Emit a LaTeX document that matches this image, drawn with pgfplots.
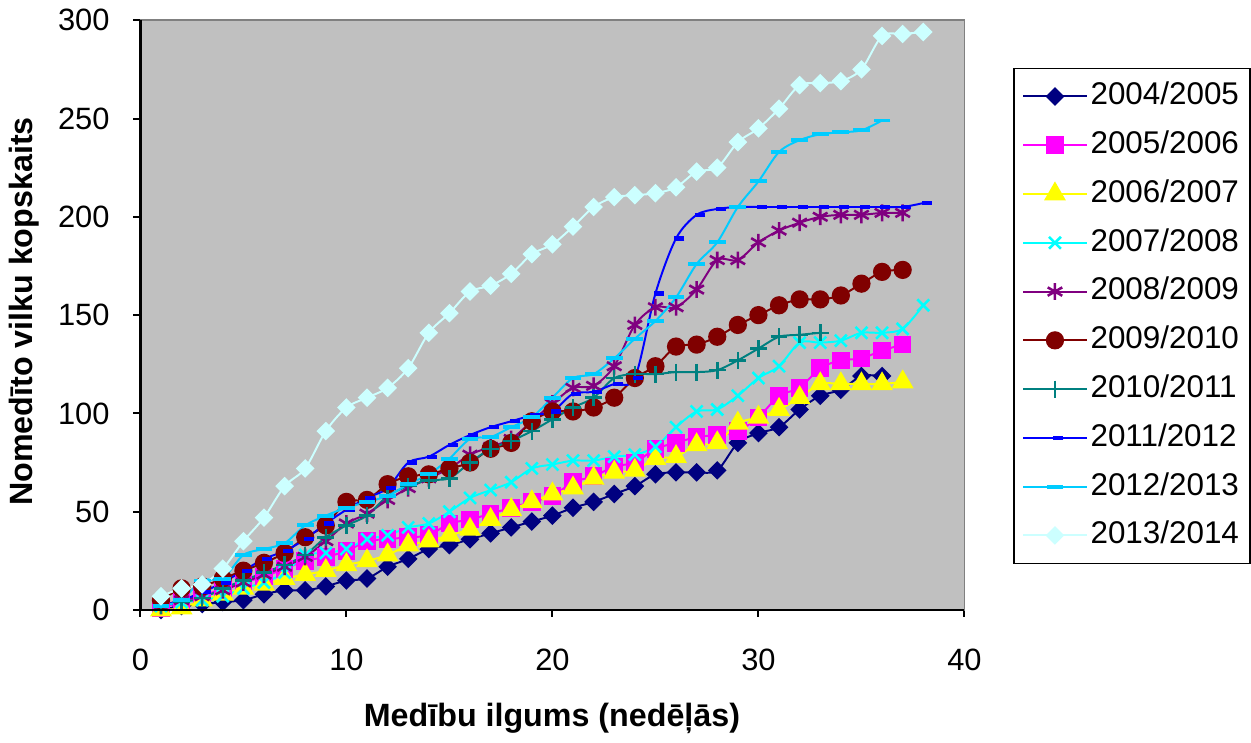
\documentclass[border=0pt]{standalone}
\usepackage{fontspec}
\setmainfont{Liberation Sans}
\usepackage{pgfplots}
\pgfplotsset{compat=1.18}

\definecolor{bg}{HTML}{C0C0C0}
\definecolor{cA}{HTML}{000080}
\definecolor{cB}{HTML}{FF00FF}
\definecolor{cC}{HTML}{FFFF00}
\definecolor{cD}{HTML}{00FFFF}
\definecolor{cE}{HTML}{800080}
\definecolor{cF}{HTML}{800000}
\definecolor{cG}{HTML}{008080}
\definecolor{cH}{HTML}{0000FF}
\definecolor{cI}{HTML}{00CCFF}
\definecolor{cJ}{HTML}{CCFFFF}

\begin{document}
\begin{tikzpicture}
\begin{axis}[
  scale only axis,
  width=294pt, height=210.4pt,
  xmin=0, xmax=40, ymin=0, ymax=300,
  xtick={0,10,...,40}, ytick={0,50,...,300},
  xtick pos=left, ytick pos=left,
  tick align=outside,
  major tick length=2.5pt,
  tick style={black, line width=0.7pt},
  axis line style={draw=gray, line width=0.6pt},
  axis background/.style={fill=bg},
  after end axis/.code={\draw[black, line width=0.8pt] (rel axis cs:0,1) -- (rel axis cs:0,0) -- (rel axis cs:1,0);},
  clip=false,
  /pgf/number format/assume math mode=true,
  tick label style={font=\fontsize{11}{13}\selectfont},
  xticklabel style={yshift=-8pt},
  yticklabel style={xshift=-5pt},
  xlabel={\bfseries Medību ilgums (nedēļās)},
  ylabel={\bfseries Nomedīto vilku kopskaits},
  label style={font=\fontsize{11.5}{13}\selectfont},
  xlabel style={at={(axis description cs:0.4994,-0.183)}, anchor=center},
  ylabel style={at={(axis description cs:-0.1408,0.506)}, anchor=center},
  legend cell align=left,
  legend style={at={(axis description cs:1.0588,0.9197)}, anchor=north west,
    draw=black, fill=white, line width=0.6pt,
    font=\fontsize{11.2}{13}\selectfont,
    row sep=5.4pt, inner xsep=3pt, inner ysep=4pt,
    nodes={inner sep=1pt, text height=8pt, text depth=2pt}},
  legend image code/.code={\draw[mark repeat=2, mark phase=2, #1] plot coordinates {(0pt,0pt) (11.35pt,0pt) (22.7pt,0pt)};},
  every axis plot/.append style={line width=0.7pt, smooth},
]
\addplot[cA, mark=square*, mark size=2pt, mark options={rotate=45, solid}] coordinates {
(1,0) (2,2) (3,3) (4,4) (5,5) (6,8) (7,10) (8,10) (9,12) (10,15)
(11,16) (12,22) (13,26) (14,31) (15,33) (16,36) (17,39) (18,42) (19,45) (20,48)
(21,52) (22,55) (23,59) (24,63) (25,69) (26,70) (27,70) (28,71) (29,85) (30,90)
(31,93) (32,102) (33,109) (34,112) (35,119) (36,119)};
\addlegendentry{2004/2005}
\addplot[cB, mark=square*, mark size=2.8pt] coordinates {
(1,1) (2,4) (3,7) (4,11) (5,14) (6,17) (7,21) (8,25) (9,27) (10,30)
(11,35) (12,36) (13,37) (14,38) (15,44) (16,46) (17,49) (18,52) (19,55) (20,58)
(21,65) (22,68) (23,73) (24,75) (25,82) (26,85) (27,88) (28,89) (29,91) (30,98)
(31,109) (32,113) (33,123) (34,127) (35,128) (36,132) (37,135)};
\addlegendentry{2005/2006}
\addplot[cC, mark=triangle*, mark size=3.8pt] coordinates {
(1,0) (2,1) (3,5) (4,8) (5,11) (6,13) (7,16) (8,18) (9,20) (10,23)
(11,25) (12,28) (13,33) (14,35) (15,38) (16,41) (17,46) (18,51) (19,55) (20,59)
(21,62) (22,67) (23,70) (24,71) (25,77) (26,78) (27,84) (28,85) (29,95) (30,98)
(31,102) (32,108) (33,115) (34,115) (35,115) (36,115) (37,116)};
\addlegendentry{2006/2007}
\addplot[cD, mark=x, mark size=3pt, mark options={line width=0.9pt}] coordinates {
(1,2) (2,4) (3,5) (4,7) (5,11) (6,14) (7,19) (8,28) (9,29) (10,31)
(11,36) (12,38) (13,42) (14,44) (15,50) (16,57) (17,61) (18,65) (19,72) (20,74)
(21,76) (22,76) (23,78) (24,79) (25,83) (26,93) (27,101) (28,102) (29,109) (30,118)
(31,124) (32,136) (33,136) (34,137) (35,141) (36,141) (37,143) (38,155)};
\addlegendentry{2007/2008}
\addplot[cE, mark=asterisk, mark size=3pt, mark options={line width=0.9pt}] coordinates {
(1,2) (2,5) (3,7) (4,10) (5,14) (6,18) (7,22) (8,27) (9,35) (10,44)
(11,49) (12,56) (13,62) (14,67) (15,72) (16,79) (17,83) (18,87) (19,96) (20,105)
(21,113) (22,114) (23,124) (24,145) (25,154) (26,154) (27,163) (28,178) (29,178) (30,187)
(31,193) (32,197) (33,200) (34,201) (35,201) (36,202) (37,202)};
\addlegendentry{2008/2009}
\addplot[cF, mark=*, mark size=2.9pt] coordinates {
(1,5) (2,11) (3,12) (4,16) (5,20) (6,24) (7,29) (8,37) (9,43) (10,55)
(11,56) (12,64) (13,68) (14,69) (15,72) (16,75) (17,82) (18,85) (19,96) (20,101)
(21,101) (22,103) (23,108) (24,118) (25,124) (26,134) (27,135) (28,139) (29,145) (30,150)
(31,155) (32,158) (33,158) (34,160) (35,166) (36,172) (37,173)};
\addlegendentry{2009/2010}
\addplot[cG, mark=+, mark size=3pt, mark options={line width=0.9pt}] coordinates {
(1,2) (2,4) (3,6) (4,11) (5,15) (6,19) (7,23) (8,28) (9,37) (10,43)
(11,48) (12,58) (13,63) (14,66) (15,67) (16,75) (17,82) (18,86) (19,91) (20,97)
(21,103) (22,108) (23,118) (24,120) (25,120) (26,121) (27,121) (28,122) (29,127) (30,133)
(31,139) (32,140) (33,141)};
\addlegendentry{2010/2011}
\addplot[cH, mark=-, mark size=1.8pt, mark options={line width=1.5pt, xshift=1.2pt}] coordinates {
(1,2) (2,5) (3,9) (4,14) (5,20) (6,26) (7,30) (8,36) (9,44) (10,51)
(11,57) (12,62) (13,75) (14,78) (15,84) (16,89) (17,93) (18,96) (19,99) (20,101)
(21,110) (22,111) (23,115) (24,118) (25,161) (26,189) (27,201) (28,204) (29,205) (30,205)
(31,205) (32,205) (33,205) (34,205) (35,205) (36,205) (37,205) (38,207)};
\addlegendentry{2011/2012}
\addplot[cI, mark=-, mark size=3pt, mark options={line width=1.4pt}] coordinates {
(1,2) (2,5) (3,15) (4,16) (5,28) (6,31) (7,34) (8,43) (9,48) (10,52)
(11,55) (12,58) (13,64) (14,69) (15,77) (16,87) (17,88) (18,93) (19,98) (20,108)
(21,118) (22,120) (23,128) (24,138) (25,147) (26,159) (27,176) (28,187) (29,205) (30,218)
(31,233) (32,239) (33,242) (34,243) (35,244) (36,249)};
\addlegendentry{2012/2013}
\addplot[cJ, mark=square*, mark size=2pt, mark options={rotate=45, solid}] coordinates {
(1,7) (2,11) (3,13) (4,21) (5,35) (6,47) (7,63) (8,72) (9,91) (10,103)
(11,108) (12,113) (13,123) (14,141) (15,151) (16,162) (17,165) (18,171) (19,181) (20,186)
(21,195) (22,205) (23,210) (24,211) (25,212) (26,215) (27,223) (28,225) (29,238) (30,245)
(31,255) (32,267) (33,268) (34,269) (35,275) (36,292) (37,293) (38,294)};
\addlegendentry{2013/2014}
\end{axis}
\end{tikzpicture}
\end{document}
